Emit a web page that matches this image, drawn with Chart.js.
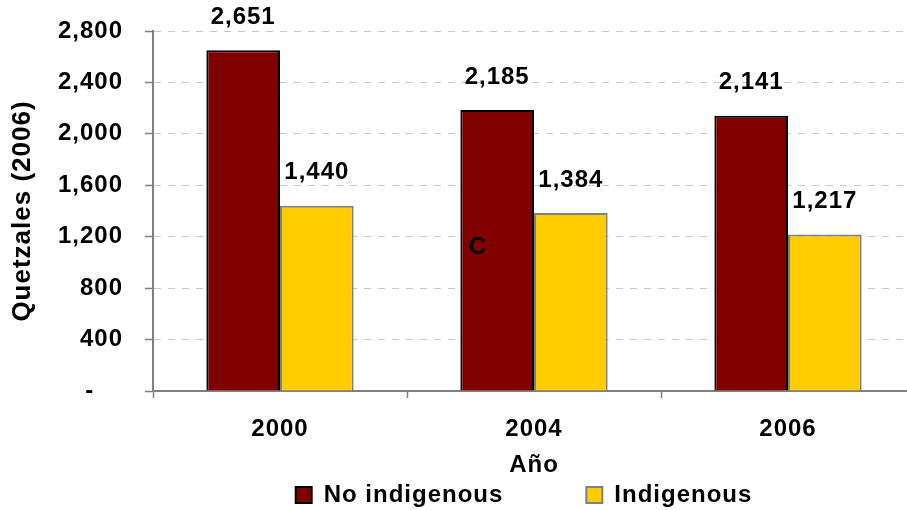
<!DOCTYPE html>
<html><head><meta charset="utf-8">
<script src="https://cdn.jsdelivr.net/npm/chart.js@4.4.0/dist/chart.umd.min.js"></script>
<style>html,body{margin:0;padding:0;overflow:hidden;background:#fff;width:907px;height:510px}
#wrap{width:920px;height:510px;position:relative}</style></head>
<body><div id="wrap"><canvas id="c" width="920" height="510"></canvas></div>
<script>
const categories = ['2000', '2004', '2006'];
const seriesNames = ['No indigenous', 'Indigenous'];
const noIndigenous = [2651, 2185, 2141];
const indigenous = [1440, 1384, 1217];
const yTickValues = [0, 400, 800, 1200, 1600, 2000, 2400, 2800];
const yTitle = 'Quetzales (2006)';
const xTitle = 'Año';
const annotationText = 'C';

const FONT = "'Liberation Sans', Arial, sans-serif";
const SPACING = '1px';
const fmt = v => v === 0 ? '-\u2007\u2007' : v.toLocaleString('en-US');

const spacingPlugin = {
  id: 'spacing',
  beforeUpdate(c) { c.ctx.letterSpacing = SPACING; },
  beforeLayout(c) { c.ctx.letterSpacing = SPACING; },
  beforeDraw(c) { c.ctx.letterSpacing = SPACING; }
};

const legendPlace = {
  id: 'legendPlace',
  afterLayout(c) {
    const l = c.legend;
    const pad = l.options.labels.padding;
    const shift = 524 - (l.left + l.right) / 2;
    l.left += shift; l.right += shift;
    l.top = 495 - pad - 12;
  }
};

const labelsPlugin = {
  id: 'valueLabels',
  afterDatasetsDraw(c) {
    const ctx = c.ctx;
    ctx.save();
    ctx.letterSpacing = SPACING;
    ctx.font = `bold 24px ${FONT}`;
    ctx.fillStyle = '#000';
    ctx.textAlign = 'center';
    ctx.textBaseline = 'middle';
    c.data.datasets.forEach((ds, i) => {
      c.getDatasetMeta(i).data.forEach((bar, j) => {
        ctx.fillText(fmt(ds.data[j]), bar.x, bar.y - 33);
      });
    });
    const xs = c.scales.x, ys = c.scales.y;
    ctx.fillText(annotationText, xs.getPixelForValue(1) - 56, ys.getPixelForValue(1120));
    ctx.restore();
  }
};

new Chart(document.getElementById('c'), {
  type: 'bar',
  data: {
    labels: categories,
    datasets: [
      { label: seriesNames[0], data: noIndigenous, backgroundColor: '#800000', borderColor: '#000000', borderWidth: 2 },
      { label: seriesNames[1], data: indigenous, backgroundColor: '#FFCC00', borderColor: '#808080', borderWidth: 2 }
    ]
  },
  options: {
    responsive: false,
    animation: false,
    layout: { padding: { top: 31, right: 5, left: 0, bottom: 0 } },
    datasets: { bar: { categoryPercentage: 0.58, barPercentage: 1.0 } },
    plugins: {
      tooltip: { enabled: false },
      legend: {
        position: 'bottom',
        maxHeight: 30,
        labels: {
          font: { family: FONT, size: 24, weight: 'bold' },
          color: '#000',
          boxWidth: 16, boxHeight: 16,
          padding: 83
        }
      }
    },
    scales: {
      x: {
        offset: true,
        grid: { offset: true, drawOnChartArea: false, tickLength: 7, tickColor: '#808080', tickWidth: 1.5 },
        border: { color: '#808080', width: 2 },
        ticks: { font: { family: FONT, size: 24, weight: 'bold' }, color: '#000', padding: 17, maxRotation: 0 },
        title: { display: true, text: xTitle, font: { family: FONT, size: 24, weight: 'bold' }, color: '#000', padding: { top: 0, bottom: 0 } },
        afterFit(s) { s.height = 89; }
      },
      y: {
        min: 0, max: 2800,
        afterBuildTicks(s) { s.ticks = yTickValues.map(v => ({ value: v })); },
        grid: { color: '#c8c8c8', lineWidth: 1, tickLength: 8, tickColor: '#808080', tickWidth: 1.5, tickBorderDash: [] },
        border: { color: '#808080', width: 2, dash: [7, 7] },
        ticks: { font: { family: FONT, size: 24, weight: 'bold' }, color: '#000', padding: 22, callback: v => fmt(v) },
        title: { display: true, text: yTitle, font: { family: FONT, size: 26, weight: 'bold' }, color: '#000', padding: { top: 7, bottom: 0 } },
        afterFit(s) { s.width = 153; s.paddingTop = 0; s.paddingBottom = 0; }
      }
    }
  },
  plugins: [spacingPlugin, legendPlace, labelsPlugin]
});
</script></body></html>
